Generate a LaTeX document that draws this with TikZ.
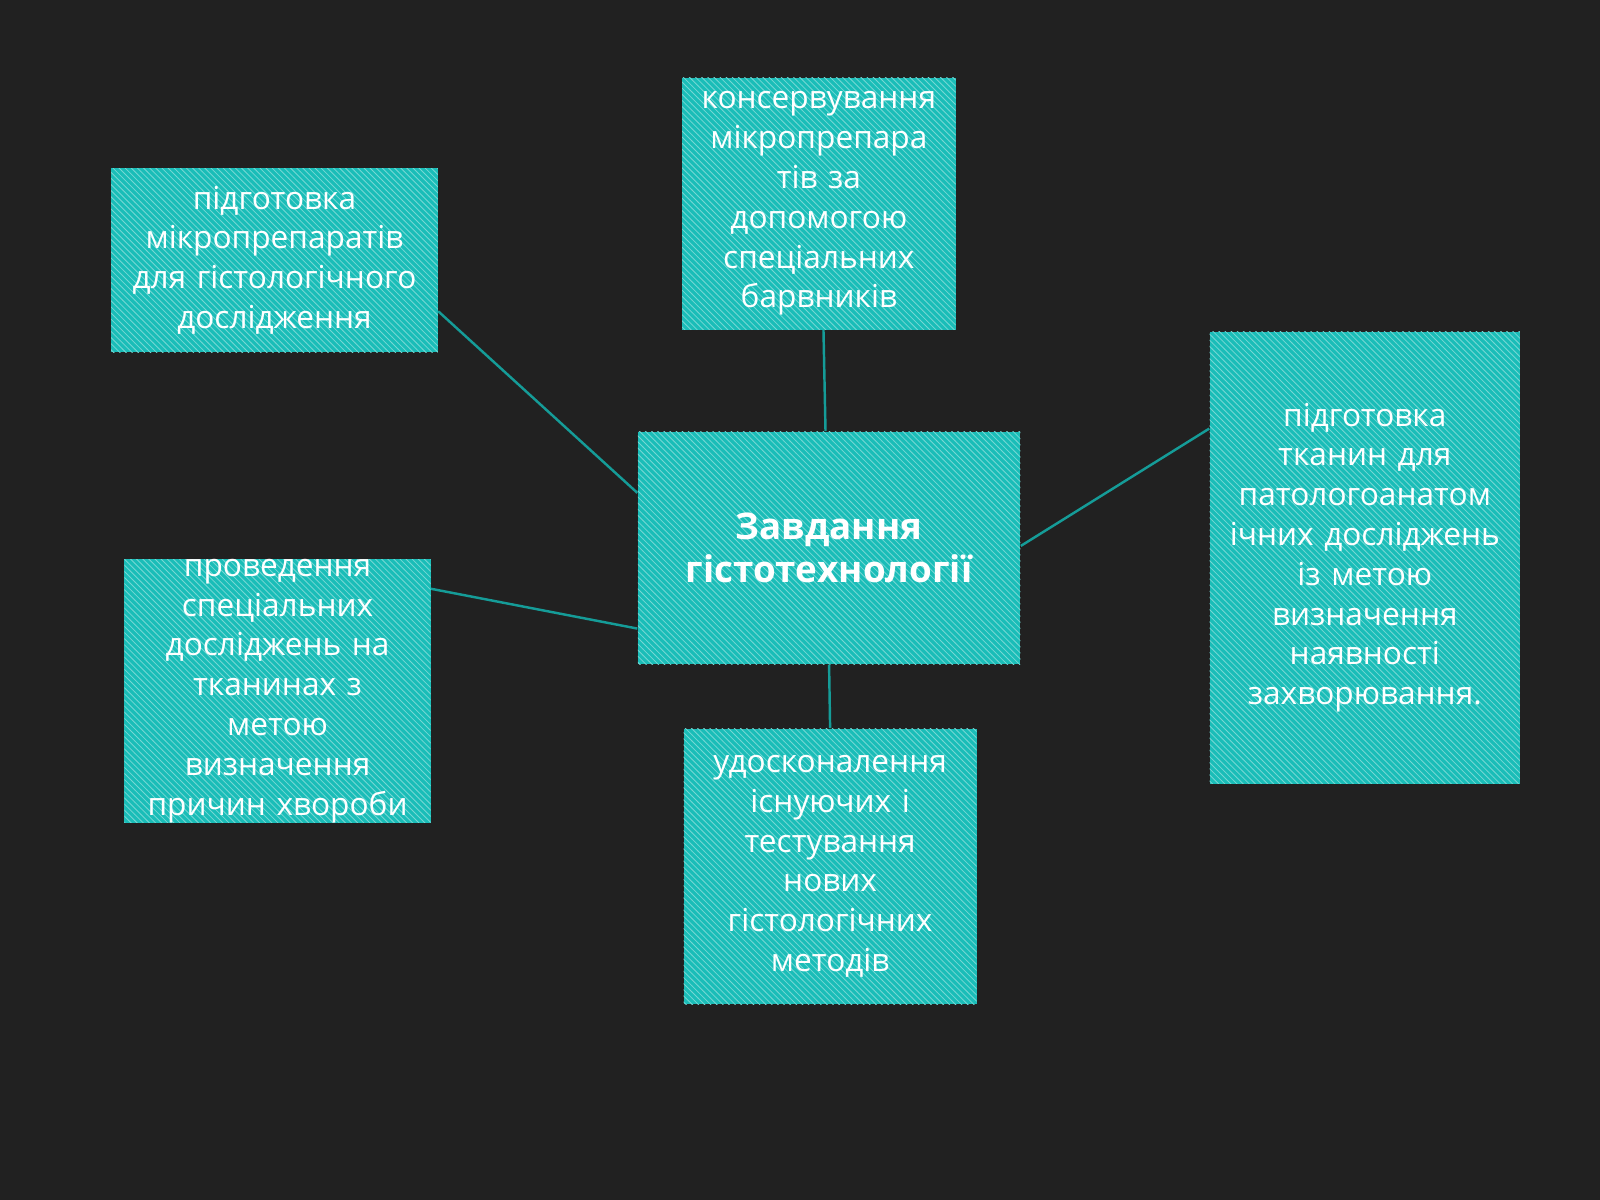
\documentclass[tikz,border=0pt]{standalone}
\usepackage{fontspec}
\setmainfont{Open Sans}
\usetikzlibrary{patterns}
\definecolor{bgdark}{HTML}{212121}
\definecolor{tealbox}{HTML}{1ABDB8}
\definecolor{tealline}{HTML}{159C98}
\tikzset{
  taskbox/.style={rectangle, fill=tealbox, text=white, align=center, inner sep=0pt,
    font=\fontsize{15.5}{19.5}\selectfont, postaction={pattern=north west lines, pattern color=white!40!tealbox}},
  link/.style={draw=tealline, line width=1.2pt}
}
\begin{document}
\begin{tikzpicture}[x=0.5pt, y=-0.5pt]
  \fill[bgdark] (0,0) rectangle (1568,1176);
  \useasboundingbox (0,0) rectangle (1568,1176);
  % central node
  \node[taskbox, minimum width=187.5pt, minimum height=114pt, text width=187.5pt,
    font=\fontsize{18}{21}\selectfont\bfseries] (task) at (812.5,537) {Завдання\\гістотехнології};
  % surrounding nodes
  \node[taskbox, minimum width=156pt, minimum height=90pt, text width=160pt] (prep) at (269,255)
    {підготовка\\мікропрепаратів\\для гістологічного\\дослідження};
  \node[taskbox, minimum width=132.5pt, minimum height=123.5pt, text width=134pt] (cons) at (802.5,199.5)
    {консервування\\мікропрепара\\тів за\\допомогою\\спеціальних\\барвників};
  \node[taskbox, minimum width=150.5pt, minimum height=221.5pt, text width=152pt] (patho) at (1337.5,546.5)
    {підготовка\\тканин для\\патологоанатом\\ічних досліджень\\із метою\\визначення\\наявності\\захворювання.};
  \node[taskbox, minimum width=146pt, minimum height=128pt, text width=150pt] (spec) at (272,677)
    {проведення\\спеціальних\\досліджень на\\тканинах з\\метою\\визначення\\причин хвороби};
  \node[taskbox, minimum width=143.5pt, minimum height=135pt, text width=143.5pt] (meth) at (813.5,849)
    {удосконалення\\існуючих і\\тестування\\нових\\гістологічних\\методів};
  % connectors
  \draw[link] (prep.east |- 0,305) -- (task.west |- 0,483);
  \draw[link] (cons.south -| 807,0) -- (task.north -| 809,0);
  \draw[link] (task.east |- 0,535) -- (patho.west |- 0,420);
  \draw[link] (spec.east |- 0,577) -- (task.west |- 0,616);
  \draw[link] (task.south) -- (meth.north);
\end{tikzpicture}
\end{document}
